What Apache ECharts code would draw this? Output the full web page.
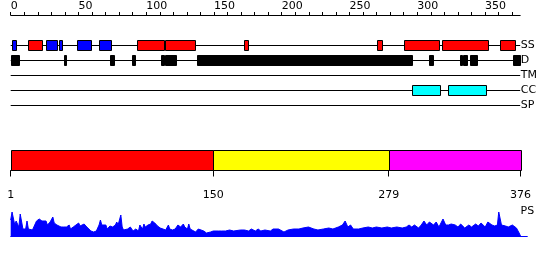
<!DOCTYPE html>
<html><head><meta charset="utf-8">
<script src="https://cdn.jsdelivr.net/npm/echarts@6/dist/echarts.min.js"></script>
<style>html,body{margin:0;padding:0;background:#fff}#c{width:550px;height:260px}</style>
</head><body><div id="c"></div>
<script>
// ---- data ----
const seqLength = 376;
const topTickValues = [0,10,20,30,40,50,60,70,80,90,100,110,120,130,140,150,160,170,180,190,200,210,220,230,240,250,260,270,280,290,300,310,320,330,340,350,360,370];
const topLabelValues = [0,50,100,150,200,250,300,350];
const trackNames = ['SS','D','TM','CC','SP'];
// secondary structure: H = helix (red), E = strand (blue)
const ssStart = [1, 13, 26, 36, 49, 65, 93, 114, 172, 270, 290, 318, 361];
const ssEnd   = [4, 23, 34, 38, 59, 74, 113, 136, 175, 274, 316, 352, 372];
const ssType  = ['E','H','E','E','E','E','H','H','H','H','H','H','H'];
// disorder
const disStart = [0, 39.5, 73, 89.5, 111, 114, 137.5, 308.5, 331.5, 334, 339, 370.5];
const disEnd   = [6, 40.5, 76, 91.5, 113, 122, 296, 312, 333, 336.5, 344, 376];
// coiled coil
const ccStart = [296, 323];
const ccEnd   = [317, 351];
// domains
const domStart = [1, 150, 279];
const domEnd   = [150, 279, 376];
const domTickValues = [1, 150, 279, 376];
// PS profile
const psRes = [1,2,3,4,5,6,7,8,9,10,12,13,14,17,19,20,22,24,25,27,28,29,30,32,33,35,36,38,39,40,41,42,44,45,46,47,49,50,51,52,53,55,56,57,58,60,62,64,66,67,68,69,71,72,73,74,76,77,78,79,80,82,83,84,85,87,89,90,91,93,95,96,98,99,100,101,102,104,105,106,107,109,110,111,112,115,116,117,118,120,122,123,124,126,127,128,129,131,132,133,134,137,139,140,143,145,148,150,154,156,159,162,165,170,173,176,178,181,183,185,188,192,194,198,202,205,209,213,216,220,224,227,231,235,238,242,245,247,249,251,253,257,260,264,267,270,274,278,281,285,289,292,294,296,298,301,303,305,307,309,310,312,314,316,319,321,323,325,328,330,332,335,338,340,343,345,347,350,352,355,357,359,360,362,365,367,370,371,373,375,376];
const psVal = [16,24,25,11,15,12,9,22,21,7,7,15,7,6,12,15,17,15,13,15,11,11,14,19,13,11,11,9,11,9,7,9,11,7,7,9,11,9,13,10,11,12,12,9,7,5,4,5,11,16,11,9,11,7,7,10,9,10,11,14,11,21,9,6,4,7,9,7,5,7,5,11,7,12,9,10,11,12,15,17,13,10,9,8,7,6,7,11,7,6,7,8,11,9,11,12,9,7,12,7,6,4,7,5,5,3,4,5,5,5,5,6,5,6,6,5,7,5,7,5,6,5,7,7,4,6,7,7,8,9,7,6,7,8,7,9,11,15,9,11,7,7,8,9,8,9,8,9,8,9,8,9,11,9,11,8,11,15,11,14,15,11,14,9,17,11,11,12,11,9,12,8,11,9,12,10,13,9,14,11,10,11,24,11,10,9,11,11,8,3,0];

// ---- chart ----
const FONT = 'DejaVu Sans';
const ssColor = {H: '#ff0000', E: '#0000ff'};
const domColor = ['#ff0000', '#ffff00', '#ff00ff'];
const crisp = v => Math.round(v) + 0.5;

function boxRenderer(fillFn) {
  return function (params, api) {
    const s = api.value(0), e = api.value(1), t = api.value(2);
    const p0 = api.coord([s, t]);
    const p1 = api.coord([e, t]);
    const x0 = crisp(p0[0]), x1 = crisp(p1[0]);
    const h = 10;
    return {
      type: 'rect',
      shape: {x: x0, y: p0[1] - h / 2, width: Math.max(x1 - x0, 1), height: h},
      style: {fill: fillFn(params.dataIndex), stroke: '#000', lineWidth: 1}
    };
  };
}

const trackLines = trackNames.map((n, i) => [0, seqLength, i]);
const ssData = ssStart.map((s, i) => [s, ssEnd[i], 0]);
const disData = disStart.map((s, i) => [s, disEnd[i], 1]);
const ccData = ccStart.map((s, i) => [s, ccEnd[i], 3]);
const domData = domStart.map((s, i) => [s, domEnd[i]]);
const psData = psRes.map((r, i) => [r, psVal[i]]);

const left = 10.7;
const chart = echarts.init(document.getElementById('c'), null, {renderer: 'canvas'});
chart.setOption({
  animation: false,
  backgroundColor: '#fff',
  textStyle: {fontFamily: FONT},
  grid: [
    {left: left, right: 29.8, top: 14, height: 1},       // top ruler
    {left: left, right: 29.8, top: 38, height: 75},      // tracks
    {left: left, right: 29.5, top: 150.5, height: 20},   // domains
    {left: left, right: 22.7, top: 206, height: 30}      // PS
  ],
  xAxis: [
    {gridIndex: 0, type: 'value', position: 'top', min: 0, max: seqLength,
     axisLine: {lineStyle: {color: '#000', width: 1}},
     axisTick: {show: true, length: 3, lineStyle: {color: '#000'}, customValues: topTickValues},
     axisLabel: {customValues: topLabelValues, align: 'left', margin: 2, fontSize: 11, color: '#000', fontFamily: FONT},
     splitLine: {show: false}},
    {gridIndex: 1, type: 'value', min: 0, max: seqLength, show: false},
    {gridIndex: 2, type: 'value', min: 1, max: seqLength, position: 'bottom', offset: 10,
     axisLine: {lineStyle: {color: '#000', width: 1}},
     axisTick: {show: true, length: 6, lineStyle: {color: '#000'}, customValues: domTickValues},
     axisLabel: {customValues: domTickValues, margin: 9, fontSize: 11, color: '#000', fontFamily: FONT},
     splitLine: {show: false}},
    {gridIndex: 3, type: 'value', min: 1, max: 381,
     axisLine: {show: true, lineStyle: {color: '#0000ff', width: 1}},
     axisTick: {show: false}, axisLabel: {show: false}, splitLine: {show: false}}
  ],
  yAxis: [
    {gridIndex: 0, type: 'value', show: false},
    {gridIndex: 1, type: 'category', data: trackNames, inverse: true, position: 'right',
     axisLine: {show: false}, axisTick: {show: false}, splitLine: {show: false},
     axisLabel: {margin: 0.5, align: 'left', fontSize: 11, color: '#000', fontFamily: FONT}},
    {gridIndex: 2, type: 'value', min: 0, max: 1, show: false},
    {gridIndex: 3, type: 'value', min: 0, max: 30, position: 'right',
     axisLine: {show: false}, axisTick: {show: false}, axisLabel: {show: false}, splitLine: {show: false},
     name: 'PS', nameLocation: 'end', nameGap: -5,
     nameTextStyle: {fontSize: 11, color: '#000', fontFamily: FONT, verticalAlign: 'middle', align: 'center'}}
  ],
  series: [
    {type: 'custom', xAxisIndex: 1, yAxisIndex: 1, data: trackLines, encode: {x: [0, 1], y: 2}, silent: true, z: 1,
     renderItem: function (params, api) {
       const p0 = api.coord([api.value(0), api.value(2)]);
       const p1 = api.coord([api.value(1), api.value(2)]);
       return {type: 'line', shape: {x1: p0[0], y1: crisp(p0[1] - 0.5), x2: p1[0], y2: crisp(p1[1] - 0.5)},
               style: {stroke: '#000', lineWidth: 1}};
     }},
    {type: 'custom', xAxisIndex: 1, yAxisIndex: 1, data: ssData, encode: {x: [0, 1], y: 2}, z: 2,
     renderItem: boxRenderer(i => ssColor[ssType[i]])},
    {type: 'custom', xAxisIndex: 1, yAxisIndex: 1, data: disData, encode: {x: [0, 1], y: 2}, z: 2,
     renderItem: boxRenderer(() => '#000')},
    {type: 'custom', xAxisIndex: 1, yAxisIndex: 1, data: ccData, encode: {x: [0, 1], y: 2}, z: 2,
     renderItem: boxRenderer(() => '#00ffff')},
    {type: 'custom', xAxisIndex: 2, yAxisIndex: 2, data: domData, encode: {x: [0, 1]}, z: 2,
     renderItem: function (params, api) {
       const p0 = api.coord([api.value(0), 1]);
       const p1 = api.coord([api.value(1), 0]);
       const x0 = crisp(p0[0]), x1 = crisp(p1[0]);
       return {type: 'rect', shape: {x: x0, y: p0[1], width: x1 - x0, height: p1[1] - p0[1]},
               style: {fill: domColor[params.dataIndex], stroke: '#000', lineWidth: 1}};
     }},
    {type: 'line', xAxisIndex: 3, yAxisIndex: 3, data: psData, showSymbol: false, symbol: 'none',
     lineStyle: {color: '#0000ff', width: 1}, areaStyle: {color: '#0000ff', opacity: 1}, z: 2}
  ]
});
</script>
</body></html>
